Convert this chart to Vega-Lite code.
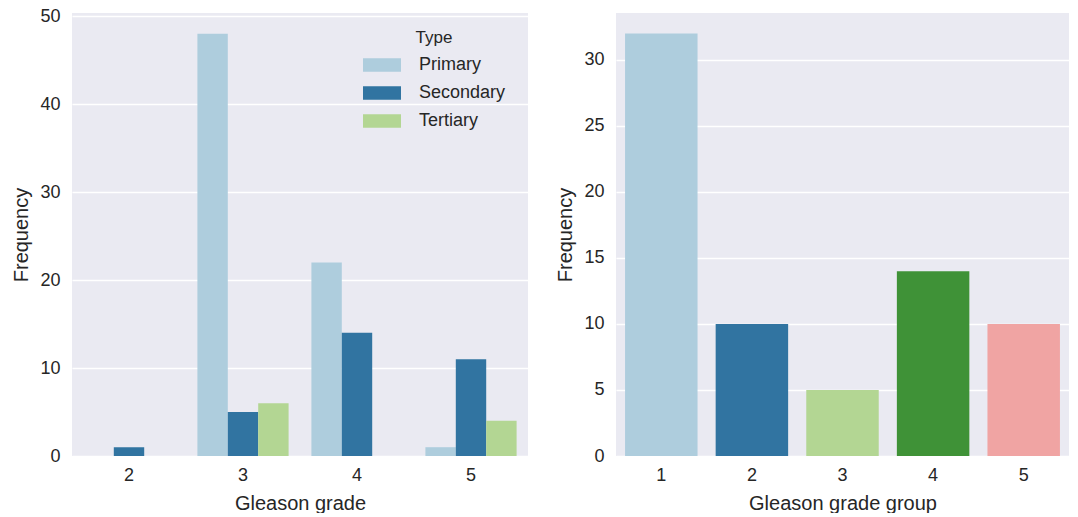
{
  "$schema": "https://vega.github.io/schema/vega-lite/v6.json",
  "padding": {"left": 11, "top": 7, "right": 6, "bottom": 0},
  "background": "white",
  "spacing": 27,
  "datasets": {
    "grade": [
      {"grade": "2", "type": "Primary", "count": 0},
      {"grade": "2", "type": "Secondary", "count": 1},
      {"grade": "2", "type": "Tertiary", "count": 0},
      {"grade": "3", "type": "Primary", "count": 48},
      {"grade": "3", "type": "Secondary", "count": 5},
      {"grade": "3", "type": "Tertiary", "count": 6},
      {"grade": "4", "type": "Primary", "count": 22},
      {"grade": "4", "type": "Secondary", "count": 14},
      {"grade": "4", "type": "Tertiary", "count": 0},
      {"grade": "5", "type": "Primary", "count": 1},
      {"grade": "5", "type": "Secondary", "count": 11},
      {"grade": "5", "type": "Tertiary", "count": 4}
    ],
    "group": [
      {"group": "1", "count": 32},
      {"group": "2", "count": 10},
      {"group": "3", "count": 5},
      {"group": "4", "count": 14},
      {"group": "5", "count": 10}
    ]
  },
  "hconcat": [
    {
      "width": 456,
      "height": 443,
      "data": {"name": "grade"},
      "mark": {"type": "bar"},
      "encoding": {
        "x": {
          "field": "grade", "type": "nominal", "title": "Gleason grade",
          "scale": {"paddingInner": 0.2, "paddingOuter": 0.1},
          "axis": {"labelAngle": 0}
        },
        "xOffset": {
          "field": "type", "type": "nominal",
          "sort": ["Primary", "Secondary", "Tertiary"],
          "scale": {"paddingInner": 0, "paddingOuter": 0}
        },
        "y": {
          "field": "count", "type": "quantitative", "title": "Frequency",
          "scale": {"domain": [0, 50.35], "nice": false},
          "axis": {"values": [0, 10, 20, 30, 40, 50]}
        },
        "color": {
          "field": "type", "type": "nominal",
          "sort": ["Primary", "Secondary", "Tertiary"],
          "scale": {"domain": ["Primary", "Secondary", "Tertiary"], "range": ["#aecddd", "#3174a1", "#b3d693"]},
          "legend": {
            "title": "Type",
            "orient": "none",
            "legendX": 291,
            "legendY": 17,
            "titleFontSize": 17,
            "titleFontWeight": "normal",
            "titleColor": "#262626",
            "titleFont": "Liberation Sans",
            "titleAnchor": "middle",
            "titlePadding": -1,
            "labelFontSize": 18,
            "labelFont": "Liberation Sans",
            "labelColor": "#262626",
            "labelOffset": 18,
            "symbolType": "M-1,-0.35H1V0.35H-1Z",
            "symbolSize": 1444,
            "symbolStrokeWidth": 0,
            "symbolOpacity": 1,
            "rowPadding": -1
          }
        }
      }
    },
    {
      "width": 453,
      "height": 443,
      "data": {"name": "group"},
      "mark": {"type": "bar"},
      "encoding": {
        "x": {
          "field": "group", "type": "nominal", "title": "Gleason grade group",
          "scale": {"paddingInner": 0.2, "paddingOuter": 0.1},
          "axis": {"labelAngle": 0}
        },
        "y": {
          "field": "count", "type": "quantitative", "title": "Frequency",
          "scale": {"domain": [0, 33.56], "nice": false},
          "axis": {"values": [0, 5, 10, 15, 20, 25, 30]}
        },
        "color": {
          "field": "group", "type": "nominal",
          "scale": {"domain": ["1", "2", "3", "4", "5"], "range": ["#aecddd", "#3174a1", "#b3d693", "#3f9237", "#f0a4a3"]},
          "legend": null
        }
      }
    }
  ],
  "resolve": {"scale": {"color": "independent"}},
  "config": {
    "view": {"stroke": null, "fill": "#eaeaf2"},
    "axis": {
      "domain": false,
      "ticks": false,
      "grid": true,
      "gridColor": "#ffffff",
      "gridWidth": 1.5,
      "labelFont": "Liberation Sans",
      "labelFontSize": 18,
      "labelColor": "#262626",
      "labelPadding": 10,
      "titleFont": "Liberation Sans",
      "titleFontSize": 20,
      "titleFontWeight": "normal",
      "titleColor": "#262626",
      "titlePadding": 9
    },
    "axisY": {"labelPadding": 12, "titlePadding": 8},
    "axisX": {"grid": false}
  }
}
